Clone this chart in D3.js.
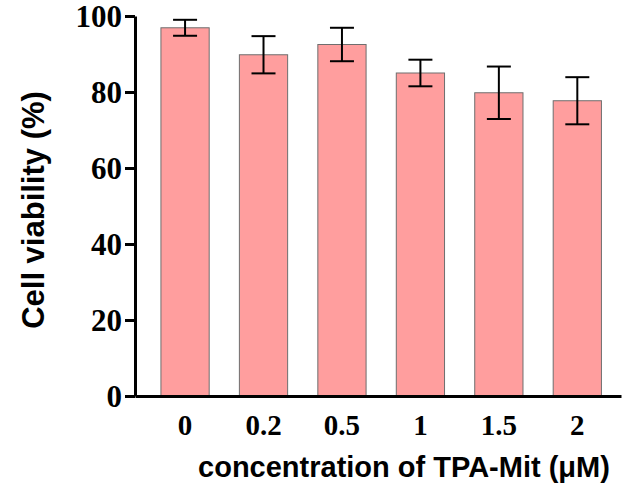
<!DOCTYPE html>
<html>
<head>
<meta charset="utf-8">
<script src="https://cdn.jsdelivr.net/npm/d3@7"></script>
<style>
  body { margin: 0; background: #fff; }
  svg { display: block; }
  .tick text { font-family: "Liberation Serif", "Times New Roman", serif; font-weight: bold; }
  .title { font-family: "Liberation Sans", Arial, sans-serif; font-weight: bold; }
</style>
</head>
<body>
<script>
const WIDTH = 622;
const HEIGHT = 492;

// concentrations (µM), mean viability and error (SD)
var doses = ['0', '0.2', '0.5', '1', '1.5', '2'];
var viability = [96.9, 89.8, 92.5, 85.0, 79.8, 77.7];
var errors = [2.1, 4.9, 4.4, 3.5, 6.9, 6.2];
var yTicks = [0, 20, 40, 60, 80, 100];

var data = doses.map(function(d, i) {
    return {dose: d, value: viability[i], err: errors[i]};
});

var svg = d3.select('body').append('svg')
    .attr('width', WIDTH)
    .attr('height', HEIGHT);

var x = d3.scaleBand()
    .domain(doses)
    .range([135, 621])
    .paddingInner(0.385)
    .paddingOuter(0.29)
    .align(0.57);

var y = d3.scaleLinear()
    .domain([0, 100])
    .range([396, 16]);

// bars
svg.selectAll('rect.bar')
    .data(data)
    .enter()
    .append('rect')
    .attr('class', 'bar')
    .attr('x', function(d) { return x(d.dose); })
    .attr('y', function(d) { return y(d.value); })
    .attr('width', x.bandwidth())
    .attr('height', function(d) { return y(0) - y(d.value); })
    .attr('fill', '#ff9e9e')
    .attr('stroke', '#6e6e6e')
    .attr('stroke-width', 1);

// error bars
var capW = 24;
var eb = svg.selectAll('g.err')
    .data(data)
    .enter()
    .append('g')
    .attr('class', 'err')
    .attr('stroke', '#000')
    .attr('stroke-width', 2);

eb.append('line')
    .attr('x1', function(d) { return x(d.dose) + x.bandwidth() / 2; })
    .attr('x2', function(d) { return x(d.dose) + x.bandwidth() / 2; })
    .attr('y1', function(d) { return y(d.value + d.err); })
    .attr('y2', function(d) { return y(d.value - d.err); });

eb.selectAll('line.cap')
    .data(function(d) { return [
        {dose: d.dose, v: d.value + d.err},
        {dose: d.dose, v: d.value - d.err}
    ]; })
    .enter()
    .append('line')
    .attr('class', 'cap')
    .attr('x1', function(d) { return x(d.dose) + x.bandwidth() / 2 - capW / 2; })
    .attr('x2', function(d) { return x(d.dose) + x.bandwidth() / 2 + capW / 2; })
    .attr('y1', function(d) { return y(d.v); })
    .attr('y2', function(d) { return y(d.v); });

// axes
var yAxis = svg.append('g')
    .attr('transform', 'translate(135,0)')
    .call(d3.axisLeft(y).tickValues(yTicks).tickSize(10).tickSizeOuter(0).tickPadding(3));

var xAxis = svg.append('g')
    .attr('transform', 'translate(0,396)')
    .call(d3.axisBottom(x).tickSize(0).tickPadding(32));

[yAxis, xAxis].forEach(function(a) {
    a.selectAll('path, line').attr('stroke', '#000').attr('stroke-width', 3);
    a.selectAll('text').attr('fill', '#000');
});
yAxis.selectAll('text').attr('dy', '0.33em').attr('font-size', 31);
xAxis.selectAll('text').attr('dy', '0.25em').attr('font-size', 29);

// titles
svg.append('text')
    .attr('class', 'title')
    .attr('transform', 'translate(44,210) rotate(-90)')
    .attr('text-anchor', 'middle')
    .attr('font-size', 31)
    .text('Cell viability (%)');

svg.append('text')
    .attr('class', 'title')
    .attr('x', 404)
    .attr('y', 477)
    .attr('text-anchor', 'middle')
    .attr('font-size', 29)
    .text('concentration of TPA-Mit (μM)');
</script>
</body>
</html>
